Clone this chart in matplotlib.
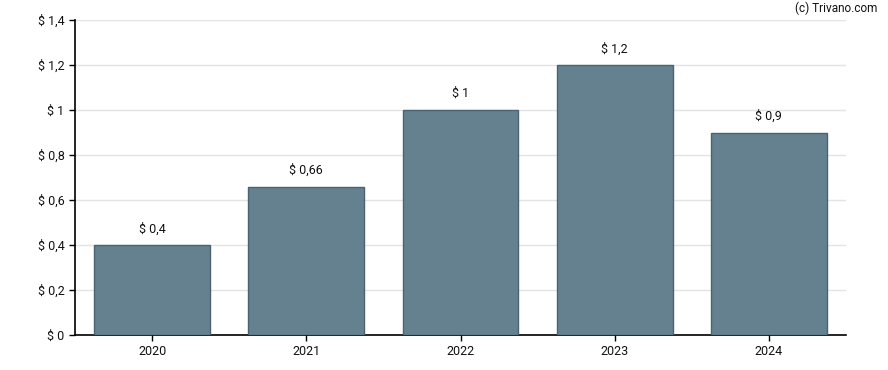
import matplotlib
matplotlib.use("Agg")
import matplotlib.pyplot as plt

plt.rcParams['font.family'] = ['Roboto', 'DejaVu Sans']

years = ["2020", "2021", "2022", "2023", "2024"]
values = [0.4, 0.66, 1.0, 1.2, 0.9]
labels = ["$ 0,4", "$ 0,66", "$ 1", "$ 1,2", "$ 0,9"]
yticks = [0, 0.2, 0.4, 0.6, 0.8, 1.0, 1.2, 1.4]
yticklabels = ["$ 0", "$ 0,2", "$ 0,4", "$ 0,6", "$ 0,8", "$ 1", "$ 1,2", "$ 1,4"]

fig = plt.figure(figsize=(8.88, 3.70), dpi=100)
ax = fig.add_axes([75/888, 1 - 335/370, (846-75)/888, (335-20)/370])

x = list(range(len(years)))
ax.bar(x, values, width=0.75, color="#65818f", edgecolor="#4a6274", linewidth=1, zorder=3)
for xi, v, l in zip(x, values, labels):
    ax.annotate(l, (xi, v), xytext=(0, 7), textcoords="offset points",
                ha="center", va="bottom", fontsize=9, color="#111111")

ax.set_xlim(-0.5, len(years) - 0.5)
ax.set_ylim(0, 1.4)
ax.set_xticks(x)
ax.set_xticklabels(years, fontsize=9)
ax.set_yticks(yticks)
ax.set_yticklabels(yticklabels, fontsize=9)
ax.yaxis.grid(True, color="#e3e3e3", linewidth=1, zorder=0)
ax.spines['top'].set_visible(False)
ax.spines['right'].set_visible(False)
ax.spines['left'].set_linewidth(1.2)
ax.spines['bottom'].set_linewidth(1.2)
ax.tick_params(axis='both', length=4, width=1, color="black", labelcolor="#111111")

fig.text(877/888, 1 - 8/370, "(c) Trivano.com", ha="right", va="center", fontsize=8.5, color="#111111")

fig.savefig("out.png", dpi=100)
